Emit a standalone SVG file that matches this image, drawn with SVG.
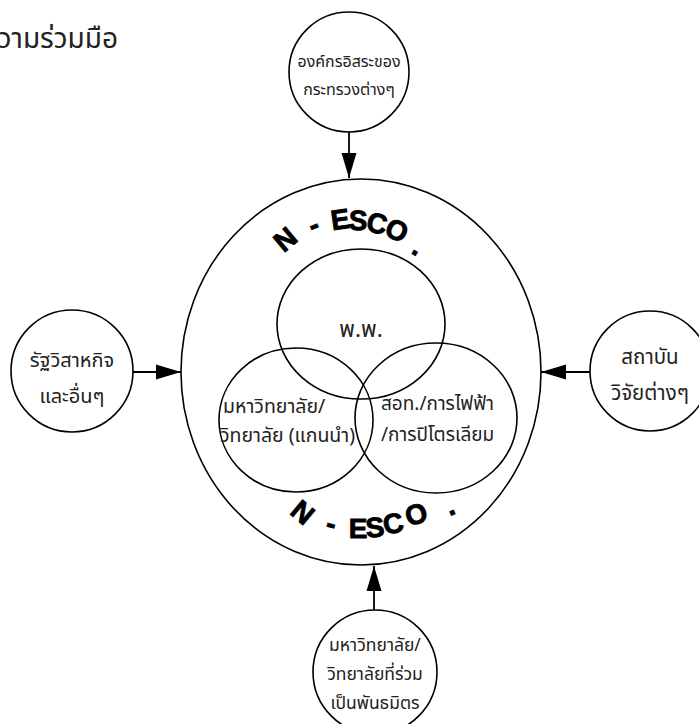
<svg xmlns="http://www.w3.org/2000/svg" width="699" height="724" viewBox="0 0 699 724">
<style>
.c{fill:#fff;stroke:#000;stroke-width:1.6}
.v{fill:none;stroke:#000;stroke-width:1.6}
.t{font-family:"Noto Sans Thai","Noto Sans","DejaVu Sans",sans-serif;fill:#222;font-size:16px;text-anchor:middle}
.n{font-family:"Liberation Sans",Arial,sans-serif;font-weight:bold;font-size:28px;text-anchor:middle;fill:#000;stroke:#000;stroke-width:0.9}
.l{stroke:#000;stroke-width:1.8;fill:none}
</style>
<defs>
<marker id="ah" markerUnits="userSpaceOnUse" markerWidth="26" markerHeight="16" refX="25" refY="8" orient="auto">
<path d="M0,0.5 L25,8 L0,15.5 Z" fill="#000"/>
</marker>
</defs>
<rect width="699" height="724" fill="#fff"/>
<text x="118" y="48" class="t" style="font-size:28px;text-anchor:end">ความร่วมมือ</text>

<g id="connectors">
<line class="l" x1="349" y1="132" x2="349" y2="178" marker-end="url(#ah)"/>
<line class="l" x1="133" y1="372" x2="181" y2="372" marker-end="url(#ah)"/>
<line class="l" x1="590" y1="372" x2="541" y2="372" marker-end="url(#ah)"/>
<line class="l" x1="374" y1="610" x2="374" y2="566" marker-end="url(#ah)"/>
</g>

<g id="n-esco">
<ellipse class="v" cx="361" cy="372" rx="180" ry="193"/>
<g transform="translate(285,239) rotate(-40)"><text class="n" y="10">N</text></g>
<g transform="translate(314,226) rotate(-22)"><text class="n" y="8">-</text></g>
<g transform="translate(340,219) rotate(-8)"><text class="n" y="10">E</text></g>
<g transform="translate(358,220) rotate(3)"><text class="n" y="10">S</text></g>
<g transform="translate(377,223) rotate(13)"><text class="n" y="10">C</text></g>
<g transform="translate(397,230) rotate(24)"><text class="n" y="10">O</text></g>
<g transform="translate(415,252) rotate(30)"><text class="n" y="3">.</text></g>

<g transform="translate(303,512) rotate(40)"><text class="n" y="10">N</text></g>
<g transform="translate(331,525) rotate(15)"><text class="n" y="8">-</text></g>
<g transform="translate(358,528) rotate(0)"><text class="n" y="10">E</text></g>
<g transform="translate(375,527) rotate(-5)"><text class="n" y="10">S</text></g>
<g transform="translate(393,523) rotate(-12)"><text class="n" y="10">C</text></g>
<g transform="translate(416,514) rotate(-20)"><text class="n" y="10">O</text></g>
<g transform="translate(452,512) rotate(-25)"><text class="n" y="3">.</text></g>
</g>

<g id="pp">
<ellipse class="v" cx="361" cy="324" rx="84" ry="75"/>
<text x="361" y="337" class="t" style="font-size:22.5px">พ.พ.</text>
</g>
<g id="university">
<ellipse class="v" cx="296" cy="420" rx="77" ry="72"/>
<text x="223" y="413" class="t" style="font-size:19.5px;text-anchor:start">มหาวิทยาลัย/</text>
<text x="220" y="442" class="t" style="font-size:19.5px;text-anchor:start">วิทยาลัย (แกนนำ)</text>
</g>
<g id="energy">
<ellipse class="v" cx="436" cy="418" rx="81" ry="75"/>
<text x="381" y="410" class="t" style="font-size:19px;text-anchor:start">สอท./การไฟฟ้า</text>
<text x="381" y="441" class="t" style="font-size:19px;text-anchor:start">/การปิโตรเลียม</text>
</g>

<g id="top-node">
<circle class="c" cx="349" cy="72" r="60"/>
<text x="349" y="67" class="t">องค์กรอิสระของ</text>
<text x="349" y="95" class="t">กระทรวงต่างๆ</text>
</g>
<g id="left-node">
<circle class="c" cx="72" cy="371" r="61"/>
<text x="72" y="367" class="t" style="font-size:20px">รัฐวิสาหกิจ</text>
<text x="72" y="403" class="t" style="font-size:20px">และอื่นๆ</text>
</g>
<g id="right-node">
<circle class="c" cx="650" cy="371" r="60"/>
<text x="650" y="364" class="t" style="font-size:20.5px">สถาบัน</text>
<text x="650" y="400" class="t" style="font-size:20.5px">วิจัยต่างๆ</text>
</g>
<g id="bottom-node">
<circle class="c" cx="375" cy="672" r="62"/>
<text x="375" y="651" class="t" style="font-size:17.5px">มหาวิทยาลัย/</text>
<text x="375" y="680" class="t" style="font-size:17.5px">วิทยาลัยที่ร่วม</text>
<text x="375" y="709" class="t" style="font-size:17.5px">เป็นพันธมิตร</text>
</g>
</svg>
